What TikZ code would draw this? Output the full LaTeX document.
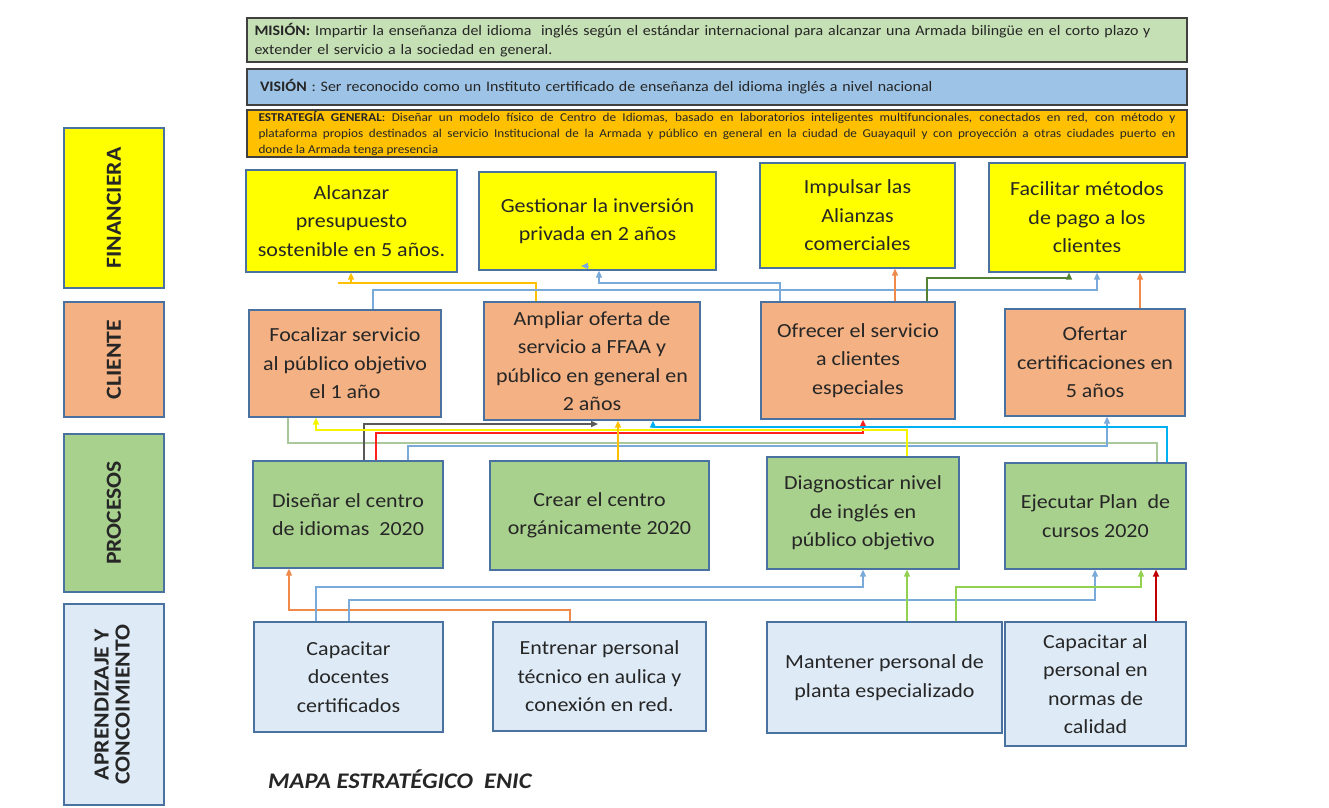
\documentclass[tikz,border=0pt]{standalone}
\usepackage{fontspec}
\setmainfont{Carlito}[FakeStretch=1.1]
\usetikzlibrary{arrows.meta}
\definecolor{bord}{HTML}{4A72A0}
\definecolor{txt}{HTML}{262626}
\definecolor{cyel}{HTML}{FFFF00}
\definecolor{cora}{HTML}{F4B183}
\definecolor{cgre}{HTML}{A9D18E}
\definecolor{cblu}{HTML}{DEEBF7}
\definecolor{cmis}{HTML}{C5E0B4}
\definecolor{cvis}{HTML}{9DC3E6}
\definecolor{cest}{HTML}{FFC000}
\definecolor{lOY}{HTML}{FFC000}
\definecolor{lB}{HTML}{7AAAD9}
\definecolor{lO}{HTML}{F08A4B}
\definecolor{lDG}{HTML}{548235}
\definecolor{lGr}{HTML}{595959}
\definecolor{lR}{HTML}{FF2020}
\definecolor{lY}{HTML}{F5F500}
\definecolor{lC}{HTML}{00B0F0}
\definecolor{lGG}{HTML}{A9C99A}
\definecolor{lLG}{HTML}{92D050}
\definecolor{lDR}{HTML}{C00000}
\begin{document}
\begin{tikzpicture}[x=1pt,y=-1pt,
  box/.style={draw=bord, line width=1.2pt, align=center, inner sep=0pt, text=txt,
    font=\fontsize{20}{28.5}\selectfont},
  lab/.style={draw=bord, line width=1.2pt, align=center, inner sep=0pt, text=txt,
    font=\fontsize{21.5}{25}\selectfont\bfseries, minimum width=100pt},
  top/.style={draw=black!75, line width=1.2pt, text=txt, minimum width=940pt},
  ln/.style={line width=1.5pt},
  arr/.style={-{Triangle[length=7pt,width=6pt]}},
]
\useasboundingbox (0,0) rectangle (1329,807);
\fill[white] (0,0) rectangle (1329,807);

% top banners
\node[top, align=left, fill=cmis, minimum height=44pt, text width=925pt, inner xsep=7.5pt, inner ysep=0pt,
  font=\fontsize{14.5}{19}\selectfont] (MIS) at (717,40)
  {\textbf{MISIÓN:} Impartir la enseñanza del idioma\ \ inglés según el estándar internacional para alcanzar una Armada bilingüe en el corto plazo y\\ extender el servicio a la sociedad en general.};
\node[top, align=left, fill=cvis, minimum height=36pt, text width=914pt, inner xsep=13pt, inner ysep=0pt,
  font=\fontsize{14.5}{19}\selectfont] (VIS) at (717,87)
  {\textbf{VISIÓN} : Ser reconocido como un Instituto certificado de enseñanza del idioma inglés a nivel nacional};
\node[top, align=justify, fill=cest, minimum height=47pt, text width=917pt, inner xsep=11.5pt, inner ysep=0pt,
  font=\fontsize{12}{16}\selectfont] (EST) at (717,133.5)
  {\textbf{ESTRATEGÍA GENERAL}: Diseñar un modelo físico de Centro de Idiomas, basado en laboratorios inteligentes multifuncionales, conectados en red, con método y\linebreak
   plataforma propios destinados al servicio Institucional de la Armada y público en general en la ciudad de Guayaquil y con proyección a otras ciudades puerto en\linebreak
   donde la Armada tenga presencia};

% left labels
\node[lab, fill=cyel, minimum height=160pt] (L1) at (114,208) {\rotatebox{90}{FINANCIERA}};
\node[lab, fill=cora, minimum height=115pt] (L2) at (114,359.5) {\rotatebox{90}{CLIENTE}};
\node[lab, fill=cgre, minimum height=158pt] (L3) at (114,513) {\rotatebox{90}{PROCESOS}};
\node[lab, fill=cblu, minimum height=201pt] (L4) at (114,704.5) {\rotatebox{90}{\begin{tabular}{@{}c@{}}APRENDIZAJE Y\\[-4pt]CONCOIMIENTO\end{tabular}}};

% financiera
\node[box, fill=cyel, minimum width=211pt, minimum height=102pt] (F1) at (351.5,221) {Alcanzar\\presupuesto\\sostenible en 5 años.};
\node[box, fill=cyel, minimum width=237pt, minimum height=98pt] (F2) at (597.5,221) {Gestionar la inversión\\privada en 2 años};
\node[box, fill=cyel, minimum width=195pt, minimum height=105pt] (F3) at (857.5,215.5) {Impulsar las\\Alianzas\\comerciales};
\node[box, fill=cyel, minimum width=196pt, minimum height=109pt] (F4) at (1087,217.5) {Facilitar métodos\\de pago a los\\clientes};

% cliente
\node[box, fill=cora, minimum width=192pt, minimum height=107pt] (C1) at (345,363.5) {Focalizar servicio\\al público objetivo\\el 1 año};
\node[box, fill=cora, minimum width=216pt, minimum height=118pt] (C2) at (592,361) {Ampliar oferta de\\servicio a FFAA y\\público en general en\\2 años};
\node[box, fill=cora, minimum width=194pt, minimum height=117pt] (C3) at (858,360.5) {Ofrecer el servicio\\a clientes\\especiales};
\node[box, fill=cora, minimum width=180pt, minimum height=107pt] (C4) at (1095,362.5) {Ofertar\\certificaciones en\\5 años};

% procesos
\node[box, fill=cgre, minimum width=190pt, minimum height=107pt] (P1) at (348,514.5) {Diseñar el centro\\de idiomas\ \ 2020};
\node[box, fill=cgre, minimum width=219pt, minimum height=109pt] (P2) at (599.5,515.5) {Crear el centro\\orgánicamente 2020};
\node[box, fill=cgre, minimum width=192pt, minimum height=112pt] (P3) at (863,513) {Diagnosticar nivel\\de inglés en\\público objetivo};
\node[box, fill=cgre, minimum width=181pt, minimum height=106pt] (P4) at (1095.5,516) {Ejecutar Plan\ \ de\\cursos 2020};

% aprendizaje
\node[box, fill=cblu, minimum width=189pt, minimum height=110pt] (A1) at (348.5,677) {Capacitar\\docentes\\certificados};
\node[box, fill=cblu, minimum width=213pt, minimum height=109pt] (A2) at (599.5,676.5) {Entrenar personal\\técnico en aulica y\\conexión en red.};
\node[box, fill=cblu, minimum width=235pt, minimum height=111pt] (A3) at (884.5,677.5) {Mantener personal de\\planta especializado};
\node[box, fill=cblu, minimum width=181pt, minimum height=124pt] (A4) at (1095.5,684) {Capacitar al\\personal en\\normas de\\calidad};

% title
\node[anchor=west, inner sep=0pt, text=txt, font=\fontsize{22.3}{26}\selectfont\bfseries\itshape] (T) at (268,779) {MAPA ESTRATÉGICO\ \ ENIC};

% ---- connectors F-C ----
\coordinate (j1) at (338,283);
\coordinate (j2) at (351,283);
\draw[ln, lOY] (C2.north -| 536,0) |- (j1);
\draw[ln, lOY, arr] (j2) -- (F1.south -| j2);
\draw[ln, lB, arr] (C3.north -| 780,0) |- (599,283) -- (F2.south -| 599,0);
\coordinate (s1) at (588,266);
\coordinate (s2) at (581,266);
\draw[line width=1pt, lB, arr] (s1) -- (s2);
\draw[ln, lB, arr] (C1.north -| 373,0) |- (1097,290) -- (F4.south -| 1097,0);
\draw[ln, lO, arr] (C3.north -| 895,0) -- (F3.south -| 895,0);
\draw[ln, lDG, arr] (C3.north -| 927,0) |- (1069,278) -- (F4.south -| 1069,0);
\draw[ln, lO, arr] (C4.north -| 1140,0) -- (F4.south -| 1140,0);

% ---- connectors C-P ----
\draw[ln, lGG] (C1.south -| 288,0) |- (1157,443) -- (P4.north -| 1157,0);
\draw[ln, lB, arr] (P1.north -| 408,0) |- (1107,446) -- (C4.south -| 1107,0);
\coordinate (g1) at (598,424);
\draw[ln, lGr, arr] (P1.north -| 364,0) |- (g1);
\draw[ln, lR, arr] (P1.north -| 376,0) |- (863,433) -- (C3.south -| 863,0);
\draw[ln, lY, line width=2pt, arr] (P3.north -| 907,0) |- (316,430) -- (C1.south -| 316,0);
\draw[ln, lOY, arr] (P2.north -| 618,0) -- (C2.south -| 618,0);
\draw[ln, lC, arr] (P4.north -| 1167,0) |- (653,427) -- (C2.south -| 653,0);

% ---- connectors P-A ----
\draw[ln, lO, arr] (A2.north -| 570,0) |- (289,610) -- (P1.south -| 289,0);
\draw[ln, lB, arr] (A1.north -| 316,0) |- (863,587) -- (P3.south -| 863,0);
\draw[ln, lB, arr] (A1.north -| 349,0) |- (1095,600) -- (P4.south -| 1095,0);
\draw[ln, lLG, arr] (A3.north -| 907,0) -- (P3.south -| 907,0);
\draw[ln, lLG, arr] (A3.north -| 956,0) |- (1141,587) -- (P4.south -| 1141,0);
\draw[ln, lDR, arr] (A4.north -| 1156,0) -- (P4.south -| 1156,0);
\end{tikzpicture}
\end{document}
